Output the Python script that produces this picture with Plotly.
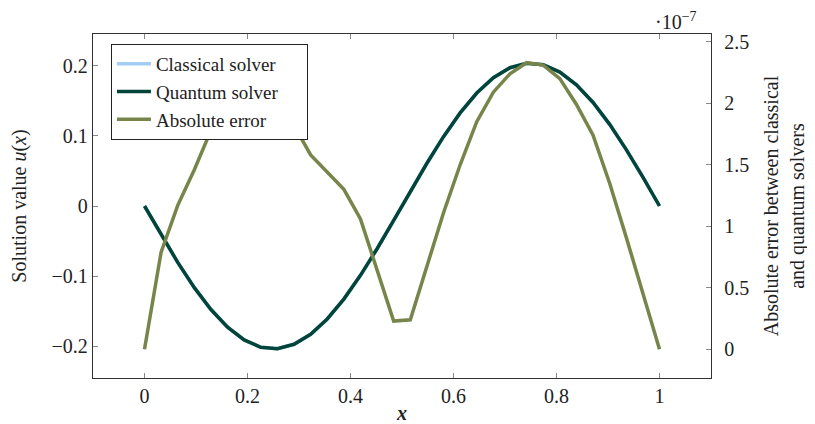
import plotly.graph_objects as go

# grid: 32 evenly spaced points on [0, 1]
x_vals = [i / 31 for i in range(32)]

quantum = [0.0, -0.0410, -0.0803, -0.1163, -0.1475, -0.1727, -0.1908, -0.2012,
           -0.2032, -0.1970, -0.1827, -0.1609, -0.1326, -0.0988, -0.0609, -0.0206,
           0.0206, 0.0609, 0.0988, 0.1326, 0.1609, 0.1827, 0.1970, 0.2032,
           0.2012, 0.1908, 0.1727, 0.1475, 0.1163, 0.0803, 0.0410, 0.0]
classical = list(quantum)

# absolute error, in units of 1e-7
error_e7 = [0.0, 0.79, 1.17, 1.46, 1.78, 1.98, 2.10, 2.12, 2.02, 1.82,
            1.58, 1.44, 1.30, 1.06, 0.65, 0.23, 0.24, 0.68, 1.11, 1.50,
            1.85, 2.09, 2.24, 2.33, 2.31, 2.20, 1.99, 1.74, 1.35, 0.91,
            0.46, 0.0]
error = [v * 1e-7 for v in error_e7]

x_ticks = [0, 0.2, 0.4, 0.6, 0.8, 1]
y_ticks = [-0.2, -0.1, 0, 0.1, 0.2]
y2_ticks = [0, 0.5e-7, 1e-7, 1.5e-7, 2e-7, 2.5e-7]
y2_ticktext = ["0", "0.5", "1", "1.5", "2", "2.5"]

FONT = "Liberation Serif"
FS = 20
C_CLASS = "#a3cdf2"
C_QUANT = "#00443a"
C_ERR = "#77844a"
TXT = "#222222"
PAD = "\u00a0" * 5

fig = go.Figure()
fig.add_trace(go.Scatter(x=x_vals, y=classical, mode="lines", name="Classical solver" + PAD,
                         line=dict(color=C_CLASS, width=3.5)))
fig.add_trace(go.Scatter(x=x_vals, y=quantum, mode="lines", name="Quantum solver" + PAD,
                         line=dict(color=C_QUANT, width=3.5)))
fig.add_trace(go.Scatter(x=x_vals, y=error, mode="lines", name="Absolute error" + PAD,
                         line=dict(color=C_ERR, width=3.5), yaxis="y2"))

axis_common = dict(showgrid=False, zeroline=False, ticks="inside", ticklen=5,
                   tickcolor="#888888", tickwidth=1, showline=True,
                   linecolor="#333333", linewidth=1.3, automargin=False,
                   tickfont=dict(family=FONT, size=FS, color=TXT))

# page body has an 8px default margin, so the figure is 8px smaller and left/top margins shifted
fig.update_layout(
    width=807, height=416,
    margin=dict(l=85, r=104, t=26, b=46),
    paper_bgcolor="white", plot_bgcolor="white",
    font=dict(family=FONT, size=FS, color=TXT),
    showlegend=True,
    legend=dict(x=0.029, y=0.971, xanchor="left", yanchor="top",
                bgcolor="white", bordercolor="#222222", borderwidth=1,
                font=dict(family=FONT, size=19), itemwidth=34,
                tracegroupgap=0),
    xaxis=dict(range=[-0.1, 1.1], tickvals=x_ticks, mirror="ticks",
               title=dict(text="<b><i>x</i></b>", font=dict(family=FONT, size=FS)),
               **axis_common),
    yaxis=dict(range=[-0.245, 0.245], tickvals=y_ticks,
               title=dict(text="Solution value <i>u</i>(<i>x</i>)", font=dict(family=FONT, size=FS),
                          standoff=20),
               **axis_common),
    yaxis2=dict(range=[-0.233e-7, 2.563e-7], overlaying="y", side="right",
                tickvals=y2_ticks, ticktext=y2_ticktext, ticklabelstandoff=8,
                title=dict(text="Absolute error between classical<br>and quantum solvers",
                           font=dict(family=FONT, size=FS)),
                **axis_common),
)

fig.add_annotation(xref="paper", yref="paper", x=1.0, y=1.0, xanchor="right", yanchor="middle",
                   yshift=13, xshift=-12, showarrow=False,
                   text="·10<sup>−7</sup>", font=dict(family=FONT, size=20, color=TXT))

fig.write_html("out.html")
